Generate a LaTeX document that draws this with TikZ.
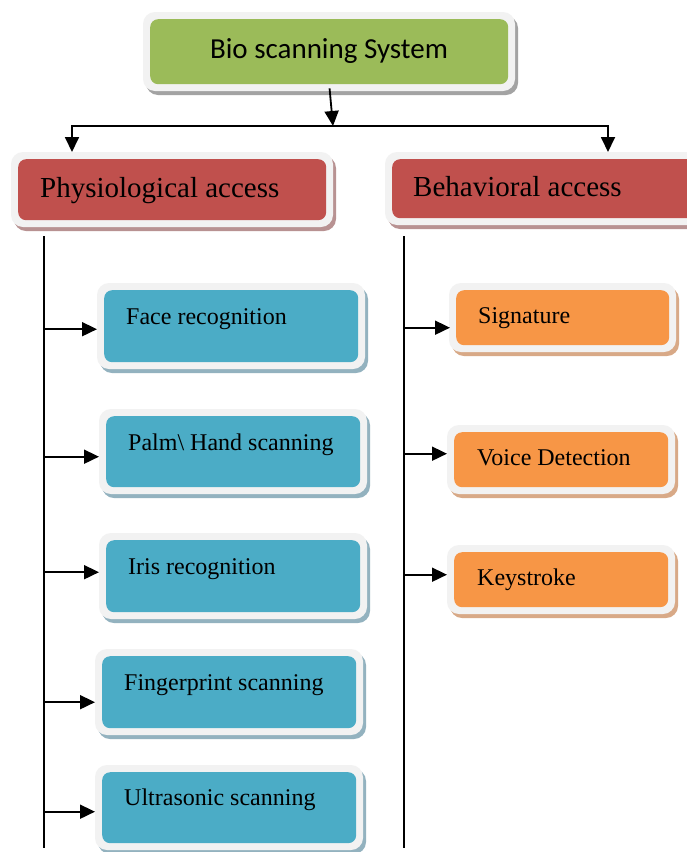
\documentclass[tikz,border=0pt]{standalone}
\usepackage{fontspec}
\setmainfont{Liberation Serif}
\newfontfamily\calib{Carlito}
\usetikzlibrary{arrows.meta}
\definecolor{framec}{HTML}{F2F2F2}
\definecolor{greenfill}{HTML}{9BBB59}
\definecolor{greensh}{HTML}{A3A3A3}
\definecolor{redfill}{HTML}{C0504D}
\definecolor{redsh}{HTML}{B89292}
\definecolor{bluefill}{HTML}{4BACC6}
\definecolor{bluesh}{HTML}{93B2BF}
\definecolor{orangefill}{HTML}{F79646}
\definecolor{orangesh}{HTML}{D8A987}
\tikzset{
  boxbase/.style={rounded corners=8pt, inner sep=0pt, draw=none},
  bluetext/.style={font=\fontsize{24}{28}\selectfont, inner sep=0pt},
  orangetext/.style={font=\fontsize{24}{28}\selectfont, inner sep=0pt},
  redtext/.style={font=\fontsize{29}{32}\selectfont, inner sep=0pt},
  greentext/.style={font=\calib\fontsize{29}{32}\selectfont, inner sep=0pt},
  trunk/.style={line width=1.8pt},
  arr/.style={line width=1.8pt, -{Triangle[length=15pt,width=14pt]}, shorten >=7pt},
}
% #1 name, #2 x1, #3 y1, #4 x2, #5 y2 (inner box), #6 kind, #7 text x, #8 baseline, #9 text
\newcommand\BioBox[9]{%
  \fill[#6sh, rounded corners=12pt] ({#2-7+3},{#3-7+4}) rectangle ({#4+7+3},{#5+7+4});
  \fill[framec, rounded corners=12pt] ({#2-7},{#3-7}) rectangle ({#4+7},{#5+7});
  \node[boxbase, fill=#6fill, minimum width={#4-#2}, minimum height={#5-#3}, anchor=north west] (#1) at (#2,#3) {};
  \node[anchor=base west, #6text] (#1t) at (#7,#8) {#9};%
}
\begin{document}
\begin{tikzpicture}[x=1pt,y=-1pt]
\clip (0,0) rectangle (687,852);
\fill[white] (0,0) rectangle (687,852);

% top box
\fill[greensh, rounded corners=12pt] (146,16) rectangle (518,95);
\fill[framec, rounded corners=12pt] (143,12) rectangle (515,91);
\node[boxbase, fill=greenfill, minimum width=358, minimum height=65, anchor=north west] (bio) at (150,19) {};
\node[greentext, anchor=base] (biot) at (329,58) {Bio scanning System};

% category boxes
\BioBox{phys}{18}{159}{326}{220}{red}{40}{197}{Physiological access}
\BioBox{behav}{392}{159}{700}{218}{red}{413}{196}{Behavioral access}

% physiological items
\BioBox{face}{104}{290}{358}{362}{blue}{126}{324}{Face recognition}
\BioBox{palm}{106}{416}{360}{487}{blue}{128}{450}{Palm\textbackslash{} Hand scanning}
\BioBox{iris}{106}{540}{360}{612}{blue}{128}{574}{Iris recognition}
\BioBox{finger}{102}{656}{356}{728}{blue}{124}{690}{Fingerprint scanning}
\BioBox{ultra}{102}{772}{356}{843}{blue}{124}{805}{Ultrasonic scanning}

% behavioral items
\BioBox{sign}{456}{290}{669}{345}{orange}{478}{323}{Signature}
\BioBox{voice}{454}{432}{668}{487}{orange}{477}{465}{Voice Detection}
\BioBox{key}{454}{552}{668}{607}{orange}{477}{585}{Keystroke}

% top connectors
\coordinate (hub) at (333,126);
\coordinate (hl) at (72,126);
\coordinate (hr) at (608,126);
\draw[arr, shorten >=0pt, shorten <=4pt] (bio.south) -- (hub);
\draw[trunk] ([xshift=-0.9pt]hl) -- ([xshift=0.9pt]hr);
\draw[arr] (hl) -- (phys.north -| hl);
\draw[arr] (hr) -- (behav.north -| hr);

% trunks
\coordinate (ltop) at (44,236);
\coordinate (lbot) at (44,848);
\coordinate (rtop) at (404,236);
\coordinate (rbot) at (404,848);
\draw[trunk] (ltop) -- (lbot);
\draw[trunk] (rtop) -- (rbot);

% branch arrows
\draw[arr] ([yshift=-3pt]face.west -| ltop) -- ([yshift=-3pt]face.west);
\draw[arr] ([yshift=-5pt]palm.west -| ltop) -- ([yshift=-5pt]palm.west);
\draw[arr] ([yshift=4pt]iris.west -| ltop) -- ([yshift=4pt]iris.west);
\draw[arr] ([yshift=-10pt]finger.west -| ltop) -- ([yshift=-10pt]finger.west);
\draw[arr] ([yshift=-4pt]ultra.west -| ltop) -- ([yshift=-4pt]ultra.west);
\draw[arr, shorten >=6pt] ([yshift=-10pt]sign.west -| rtop) -- ([yshift=-10pt]sign.west);
\draw[arr, shorten >=7pt] ([yshift=6pt]voice.west -| rtop) -- ([yshift=6pt]voice.west);
\draw[arr, shorten >=7pt] ([yshift=5pt]key.west -| rtop) -- ([yshift=5pt]key.west);
\end{tikzpicture}
\end{document}
